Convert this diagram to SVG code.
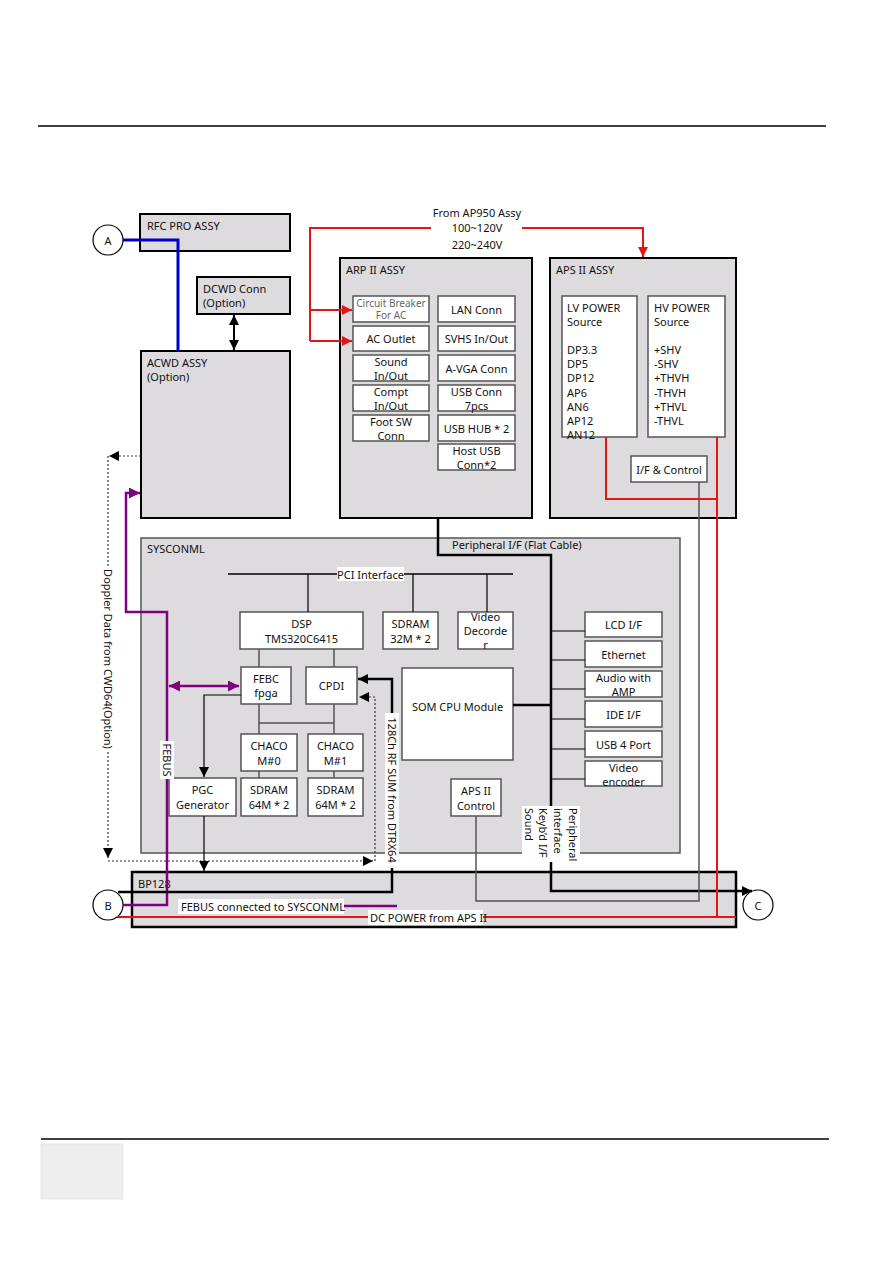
<svg xmlns="http://www.w3.org/2000/svg" width="893" height="1263" viewBox="0 0 893 1263">
<style>
.asm{fill:#dddbde;stroke:#000;stroke-width:2}
.sys{fill:#dddbde;stroke:#555;stroke-width:1.5}
.box{fill:#fff;stroke:#555;stroke-width:1.5}
.t{font-family:"Noto Sans","DejaVu Sans",sans-serif;font-size:11px;fill:#111}
.c{text-anchor:middle;dominant-baseline:central}
.bg{fill:#fff}
.k{fill:none;stroke:#000}
.g{fill:none;stroke:#555;stroke-width:1.5}
.r{fill:none;stroke:#e51515;stroke-width:2}
.p{fill:none;stroke:#800080;stroke-width:2.5}
.d{fill:none;stroke:#333;stroke-width:1.2;stroke-dasharray:2 2}
</style>
<defs>
<marker id="ak" viewBox="0 0 10 10" refX="10" refY="5" markerUnits="userSpaceOnUse" markerWidth="10" markerHeight="10" orient="auto-start-reverse"><path d="M0,0 L10,5 L0,10 z" fill="#000"/></marker>
<marker id="ar" viewBox="0 0 10 10" refX="10" refY="5" markerUnits="userSpaceOnUse" markerWidth="10" markerHeight="10" orient="auto-start-reverse"><path d="M0,0 L10,5 L0,10 z" fill="#e51515"/></marker>
<marker id="ap" viewBox="0 0 10 10" refX="10" refY="5" markerUnits="userSpaceOnUse" markerWidth="11" markerHeight="11" orient="auto-start-reverse"><path d="M0,0 L10,5 L0,10 z" fill="#800080"/></marker>
</defs>
<rect width="893" height="1263" fill="#fff"/>
<line x1="38" y1="126" x2="826" y2="126" stroke="#000" stroke-width="1.5"/>
<line x1="41" y1="1139" x2="829" y2="1139" stroke="#000" stroke-width="1.5"/>
<rect x="41" y="1144" width="82" height="55" fill="#eeeeee" stroke="#e6e6e6"/>

<g id="rfc"><rect class="asm" x="140" y="214" width="150" height="37"/><text class="t" x="147" y="230">RFC PRO ASSY</text></g>
<g id="dcwd"><rect class="asm" x="197" y="277" width="93" height="37"/><text class="t" x="203" y="293">DCWD Conn</text><text class="t" x="203" y="307">(Option)</text></g>
<g id="acwd"><rect class="asm" x="141" y="351" width="149" height="167"/><text class="t" x="147" y="367">ACWD ASSY</text><text class="t" x="147" y="381">(Option)</text></g>

<g id="arp"><rect class="asm" x="340" y="258" width="192" height="260"/><text class="t" x="346" y="274">ARP II ASSY</text>
<rect class="box" x="353" y="296" width="76" height="26"/><text class="t c" x="391" y="303" style="fill:#666;font-size:10px">Circuit Breaker</text><text class="t c" x="391" y="315" style="fill:#666;font-size:10px">For AC</text>
<rect class="box" x="353" y="326" width="76" height="25"/><text class="t c" x="391" y="338.5">AC Outlet</text>
<rect class="box" x="353" y="355" width="76" height="26"/><text class="t c" x="391" y="361">Sound</text><text class="t c" x="391" y="375">In/Out</text>
<rect class="box" x="353" y="385" width="76" height="26"/><text class="t c" x="391" y="391">Compt</text><text class="t c" x="391" y="405">In/Out</text>
<rect class="box" x="353" y="415" width="76" height="26"/><text class="t c" x="391" y="421">Foot SW</text><text class="t c" x="391" y="435">Conn</text>
<rect class="box" x="438" y="296" width="77" height="26"/><text class="t c" x="476.5" y="309">LAN Conn</text>
<rect class="box" x="438" y="326" width="77" height="25"/><text class="t c" x="476.5" y="338.5">SVHS In/Out</text>
<rect class="box" x="438" y="355" width="77" height="26"/><text class="t c" x="476.5" y="368">A-VGA Conn</text>
<rect class="box" x="438" y="385" width="77" height="26"/><text class="t c" x="476.5" y="391">USB Conn</text><text class="t c" x="476.5" y="405">7pcs</text>
<rect class="box" x="438" y="415" width="77" height="26"/><text class="t c" x="476.5" y="428">USB HUB * 2</text>
<rect class="box" x="438" y="444" width="77" height="26"/><text class="t c" x="476.5" y="450">Host USB</text><text class="t c" x="476.5" y="464">Conn*2</text>
</g>

<g id="aps"><rect class="asm" x="550" y="258" width="186" height="260"/><text class="t" x="556" y="274">APS II ASSY</text>
<rect class="box" x="562" y="296" width="75" height="141"/>
<text class="t" x="567" y="312">LV POWER</text><text class="t" x="567" y="326">Source</text>
<text class="t" x="567" y="354">DP3.3</text><text class="t" x="567" y="368">DP5</text><text class="t" x="567" y="382">DP12</text><text class="t" x="567" y="397">AP6</text><text class="t" x="567" y="411">AN6</text><text class="t" x="567" y="425">AP12</text><text class="t" x="567" y="439">AN12</text>
<rect class="box" x="648" y="296" width="77" height="141"/>
<text class="t" x="654" y="312">HV POWER</text><text class="t" x="654" y="326">Source</text>
<text class="t" x="654" y="354">+SHV</text><text class="t" x="654" y="368">-SHV</text><text class="t" x="654" y="382">+THVH</text><text class="t" x="654" y="397">-THVH</text><text class="t" x="654" y="411">+THVL</text><text class="t" x="654" y="425">-THVL</text>
<rect class="box" x="631" y="456" width="76" height="26"/><text class="t c" x="669" y="469">I/F &amp; Control</text>
</g>

<g id="sysconml"><rect class="sys" x="141" y="538" width="539" height="315"/><text class="t" x="147" y="553">SYSCONML</text>
<rect class="box" x="240" y="612" width="123" height="37"/><text class="t c" x="301.5" y="623">DSP</text><text class="t c" x="301.5" y="638">TMS320C6415</text>
<rect class="box" x="383" y="612" width="55" height="37"/><text class="t c" x="410.5" y="623">SDRAM</text><text class="t c" x="410.5" y="638">32M * 2</text>
<rect class="box" x="458" y="612" width="55" height="37"/><text class="t c" x="485.5" y="616">Video</text><text class="t c" x="485.5" y="630">Decorde</text><text class="t c" x="485.5" y="644">r</text>
<rect class="box" x="241" y="667" width="50" height="37"/><text class="t c" x="266" y="678">FEBC</text><text class="t c" x="266" y="692">fpga</text>
<rect class="box" x="306" y="667" width="51" height="37"/><text class="t c" x="331.5" y="685.5">CPDI</text>
<rect class="box" x="241" y="734" width="56" height="37"/><text class="t c" x="269" y="745">CHACO</text><text class="t c" x="269" y="760">M#0</text>
<rect class="box" x="308" y="734" width="55" height="37"/><text class="t c" x="335.5" y="745">CHACO</text><text class="t c" x="335.5" y="760">M#1</text>
<rect class="box" x="241" y="778" width="56" height="38"/><text class="t c" x="269" y="789">SDRAM</text><text class="t c" x="269" y="804">64M * 2</text>
<rect class="box" x="308" y="778" width="55" height="38"/><text class="t c" x="335.5" y="789">SDRAM</text><text class="t c" x="335.5" y="804">64M * 2</text>
<rect class="box" x="169" y="778" width="67" height="38"/><text class="t c" x="202.5" y="789">PGC</text><text class="t c" x="202.5" y="804">Generator</text>
<rect class="box" x="402" y="668" width="111" height="92"/><text class="t c" x="457.5" y="706">SOM CPU Module</text>
<rect class="box" x="451" y="779" width="50" height="37"/><text class="t c" x="476" y="790">APS II</text><text class="t c" x="476" y="805">Control</text>
<rect class="box" x="585" y="612" width="77" height="25"/><text class="t c" x="623.5" y="624.5">LCD I/F</text>
<rect class="box" x="585" y="641" width="77" height="26"/><text class="t c" x="623.5" y="654">Ethernet</text>
<rect class="box" x="585" y="671" width="77" height="26"/><text class="t c" x="623.5" y="677">Audio with</text><text class="t c" x="623.5" y="691">AMP</text>
<rect class="box" x="585" y="701" width="77" height="26"/><text class="t c" x="623.5" y="714">IDE I/F</text>
<rect class="box" x="585" y="731" width="77" height="26"/><text class="t c" x="623.5" y="744">USB 4 Port</text>
<rect class="box" x="585" y="761" width="77" height="25"/><text class="t c" x="623.5" y="767">Video</text><text class="t c" x="623.5" y="781">encoder</text>
</g>

<g id="bp128"><rect x="132" y="872" width="604" height="55" fill="#dddbde" stroke="#000" stroke-width="2.5"/><text class="t" x="138" y="888">BP128</text></g>

<g id="nodeA"><circle cx="108" cy="240" r="15" fill="#fff" stroke="#000" stroke-width="1.2"/><text class="t c" x="108" y="240">A</text></g>
<g id="nodeB"><circle cx="108" cy="905" r="15" fill="#fff" stroke="#000" stroke-width="1.2"/><text class="t c" x="108" y="905">B</text></g>
<g id="nodeC"><circle cx="758" cy="905" r="15" fill="#fff" stroke="#000" stroke-width="1.2"/><text class="t c" x="758" y="905">C</text></g>

<g id="connectors">
<path d="M123,240 H178 V351" fill="none" stroke="#0000cc" stroke-width="3"/>
<path d="M234,315 V350" class="k" stroke-width="2" marker-start="url(#ak)" marker-end="url(#ak)"/>
<path d="M431,228 H310 V341" class="r"/>
<path d="M310,310 H352" class="r" marker-end="url(#ar)"/>
<path d="M310,341 H352" class="r" marker-end="url(#ar)"/>
<path d="M522,228 H643 V257" class="r" marker-end="url(#ar)"/>
<text class="t c" x="477" y="212">From AP950 Assy</text>
<text class="t c" x="477" y="227">100~120V</text>
<text class="t c" x="477" y="244">220~240V</text>

<path d="M141,456 H109" class="d" marker-end="url(#ak)"/>
<path d="M108,456 V858" class="d" marker-end="url(#ak)"/>
<path d="M108,861 H373" class="d" marker-end="url(#ak)"/>
<path d="M375,861 V697 H359" class="d" marker-end="url(#ak)"/>
<rect class="bg" x="101" y="567" width="14" height="184"/>
<text class="t c" transform="translate(108,659) rotate(90)">Doppler Data from CWD64(Option)</text>

<path d="M123,905 H167 V612 H126 V493 H140" class="p" marker-end="url(#ap)"/>
<path d="M169,686 H239" class="p" stroke-width="2.5" marker-start="url(#ap)" marker-end="url(#ap)"/>
<rect class="bg" x="160" y="741" width="14" height="38"/>
<text class="t c" transform="translate(167,760) rotate(90)">FEBUS</text>
<path d="M343,906 H397" class="p" stroke-width="2"/>
<rect class="bg" x="178" y="899" width="166" height="15"/>
<text class="t" x="181" y="906" dominant-baseline="central">FEBUS connected to SYSCONML</text>

<path d="M241,695 H204 V777" class="k" stroke-width="1.2" marker-end="url(#ak)"/>
<path d="M204,816 V871" class="k" stroke-width="1.2" marker-end="url(#ak)"/>

<line x1="228" y1="574" x2="513" y2="574" stroke="#000" stroke-width="1.5"/>
<path d="M308,574 V612 M413,574 V612 M487,574 V612" class="k" stroke-width="1.2"/>
<rect class="bg" x="337" y="567" width="67" height="14"/>
<text class="t c" x="370.5" y="574">PCI Interface</text>
<path d="M259,649 V667 M334,649 V667 M259,704 V734 M334,704 V734 M259,723 H334 M259,771 V778 M334,771 V778" class="g"/>

<path d="M118,892 H392 V679 H358" class="k" stroke-width="2.5" marker-end="url(#ak)"/>
<rect class="bg" x="385" y="713" width="14" height="155"/>
<text class="t c" transform="translate(392,790) rotate(90)">128Ch RF SUM from DTRX64</text>

<path d="M438,518 V555 H551 V891 H752" class="k" stroke-width="2.5" marker-end="url(#ak)"/>
<text class="t" x="452" y="549">Peripheral I/F (Flat Cable)</text>
<path d="M513,705 H551" class="k" stroke-width="2.5"/>
<path d="M551,631 H585 M551,660 H585 M551,689 H585 M551,719 H585 M551,749 H585 M551,779 H585" class="k" stroke="#333" stroke-width="1.2"/>
<rect class="bg" x="522" y="806" width="58" height="56"/>
<text class="t" transform="translate(573,808) rotate(90)" dominant-baseline="central">Peripheral</text>
<text class="t" transform="translate(558,808) rotate(90)" dominant-baseline="central">interface</text>
<text class="t" transform="translate(543,808) rotate(90)" dominant-baseline="central">Keyb’d I/F</text>
<text class="t" transform="translate(529,808) rotate(90)" dominant-baseline="central">Sound</text>

<path d="M476,816 V901 H699 V482" class="g"/>
<path d="M606,437 V499 H717" class="r" stroke-width="2.5"/>
<path d="M717,437 V917" class="r" stroke-width="2.5"/>
<path d="M117,917 H736" class="r" stroke-width="4"/>
<rect class="bg" x="368" y="910" width="115" height="15"/>
<text class="t" x="370" y="917" dominant-baseline="central">DC POWER from APS II</text>
</g>
</svg>
